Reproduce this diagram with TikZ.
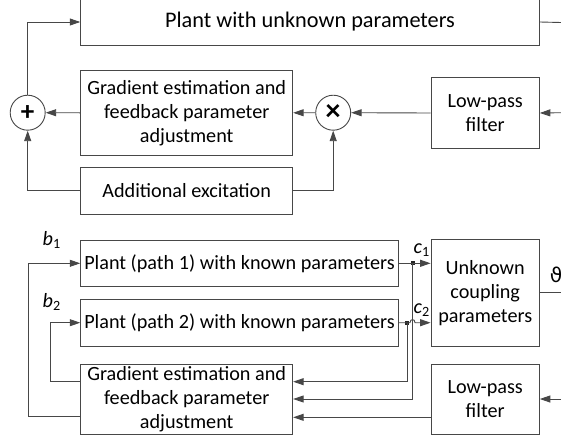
\documentclass[tikz,border=0pt]{standalone}
\usepackage{fontspec}
\setmainfont{Carlito}
\newfontfamily\symfont{DejaVu Sans}
\usetikzlibrary{arrows.meta,calc}
\begin{document}
\begin{tikzpicture}[x=1pt,y=-1pt,
  box/.style={draw=black!72, line width=0.9pt, inner sep=0pt, align=center,
    font=\fontsize{20.2}{24}\selectfont, text=black},
  circ/.style={draw=black!72, line width=0.9pt, circle, minimum size=35pt, inner sep=0pt,
    font=\fontsize{27}{27}\selectfont\bfseries},
  conn/.style={draw=black!72, line width=0.9pt},
  arr/.style={conn, -{Triangle[length=10.5pt,width=7pt]}},
  jdot/.style={fill=black!85, rectangle, minimum size=4pt, inner sep=0pt},
  lbl/.style={inner sep=0pt, font=\fontsize{20.2}{24}\selectfont, text=black}
]
\useasboundingbox (0,0) rectangle (561,442);

% ---------- upper diagram ----------
\node[box, minimum width=458.6pt, minimum height=47.5pt, font=\fontsize{22.3}{26}\selectfont] (pu) at (310,22) {Plant with unknown parameters};
\node[box, minimum width=212pt, minimum height=84.3pt] (g1) at (186.7,112.8)
  {Gradient estimation and\\feedback parameter\\adjustment};
\node[box, minimum width=212pt, minimum height=46.7pt] (ae) at (186.7,190.7) {Additional excitation};
\node[circ] (sum) at (27.7,112.7) {+};
\node[circ, font=\fontsize{30}{30}\selectfont\bfseries] (mul) at (333.2,112.7) {×};
\node[box, minimum width=108.3pt, minimum height=70.6pt] (lp1) at (485.2,113) {Low-pass\\filter};
\coordinate (in1) at (561,112.7);
\coordinate (out1) at (561,22.5);

\draw[arr] (sum.north) |- (pu.west);
\draw[conn] (pu.east) -- (out1);
\draw[arr] (g1.west) -- (sum.east);
\draw[arr] (mul.west) -- (g1.east);
\draw[arr] (lp1.west) -- (mul.east);
\draw[arr] (in1) -- (lp1.east);
\draw[arr] (ae.west) -| (sum.south);
\draw[arr] (ae.east) -| (mul.south);

% ---------- lower diagram ----------
\node[box, minimum width=317.6pt, minimum height=46.7pt] (p1) at (239.5,263.3) {Plant (path 1) with known parameters};
\node[box, minimum width=317.6pt, minimum height=46.7pt] (p2) at (239.5,322.7) {Plant (path 2) with known parameters};
\node[box, minimum width=108.3pt, minimum height=106.7pt] (cp) at (485.2,292.7) {Unknown\\coupling\\parameters};
\node[box, minimum width=212pt, minimum height=70pt] (g2) at (186.7,399)
  {Gradient estimation and\\feedback parameter\\adjustment};
\node[box, minimum width=108.3pt, minimum height=70pt] (lp2) at (485.2,399) {Low-pass\\filter};

\node[lbl] (lb1) at (51.7,240) {\itshape b\textsubscript{\upshape 1}};
\node[lbl] (lb2) at (51.7,302) {\itshape b\textsubscript{\upshape 2}};
\node[lbl] (lc1) at (421.7,250) {\itshape c\textsubscript{\upshape 1}};
\node[lbl] (lc2) at (421.7,310) {\itshape c\textsubscript{\upshape 2}};
\node[lbl] (lth) at (556,275) {\symfont ϑ};

\node[jdot] (d1) at (412.5,263.3) {};
\node[jdot] (d2) at (407.3,322.7) {};
\coordinate (in2) at (561,399);
\coordinate (out2) at (561,292.7);
\coordinate (c1l) at (28.3,416.7);
\coordinate (c2l) at (50,381.3);

\draw[arr] (p1.east) -- (cp.west |- p1.east);
\draw[arr] (p2.east) -- (410,322.7) .. controls (410,318.5) and (415,318.5) .. (415,322.7) -- (cp.west |- p2.east);
\draw[arr] (d1.center) |- (g2.east);
\draw[arr] (d2.center) |- ($(g2.east)+(0,-17.3)$);
\draw[arr] ($(lp2.west)+(0,18.3)$) -- ($(g2.east)+(0,18.3)$);
\draw[arr] (in2) -- (lp2.east);
\draw[conn] (cp.east) -- (out2);
\draw[arr] ($(g2.west)+(0,17.7)$) -- (c1l) |- (p1.west);
\draw[arr] ($(g2.west)+(0,-17.7)$) -- (c2l) |- (p2.west);
\end{tikzpicture}
\end{document}
